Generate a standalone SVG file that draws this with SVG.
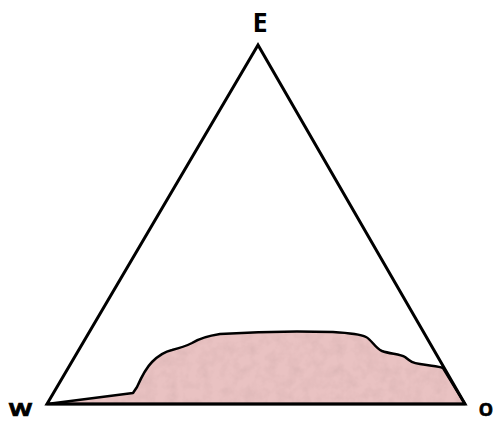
<svg xmlns="http://www.w3.org/2000/svg" width="496" height="421" viewBox="0 0 496 421">
<style>
.lbl{font-family:"Open Sans","Liberation Sans",sans-serif;font-weight:bold;fill:#000;text-anchor:middle}
.heavy{stroke:#000;stroke-width:0.7}
.edge{fill:none;stroke:#000;stroke-width:3;stroke-linejoin:miter}
.fill{fill:#e9c2c2;stroke:none}
.outline{fill:none;stroke:#000;stroke-width:2.5;stroke-linejoin:round}
</style>
<defs>
<filter id="tex" x="0" y="0" width="1" height="1">
<feTurbulence type="fractalNoise" baseFrequency="0.09" numOctaves="3" seed="4" result="n"/>
<feColorMatrix in="n" type="matrix" values="0 0 0 0 0.55  0 0 0 0 0.35  0 0 0 0 0.35  0.6 0 0 0 -0.22" result="spots"/>
<feComposite in="spots" in2="SourceGraphic" operator="in" result="clip"/>
<feMerge><feMergeNode in="SourceGraphic"/><feMergeNode in="clip"/></feMerge>
</filter>
<path id="rp" d="M47,404 L133,393 L137,387 C141,378 145,369 152,362 C158,356 163,352 172,350 C180,348 186,346 192,343 C200,338 207,336 220,334 C250,332 300,331 333,332 C350,333 360,334 366,337 C372,340 375,348 382,351 C390,354 400,354 405,357 C410,361 412,363 420,364 C430,366 438,366 443,368 L465,404 Z"/>
</defs>
<rect width="496" height="421" fill="#fff"/>
<g id="region">
<use href="#rp" class="fill" filter="url(#tex)"/>
<use href="#rp" class="outline"/>
</g>
<g id="triangle">
<path class="edge" d="M47,404 L258,45 L465,404 Z"/>
</g>
<g id="labels">
<text id="E" class="lbl" x="260" y="32" font-size="27">E</text>
<text id="W" class="lbl heavy" x="20.5" y="416" font-size="18" textLength="23" lengthAdjust="spacingAndGlyphs">W</text>
<text id="O" class="lbl heavy" x="486" y="416" font-size="18">O</text>
</g>
</svg>
